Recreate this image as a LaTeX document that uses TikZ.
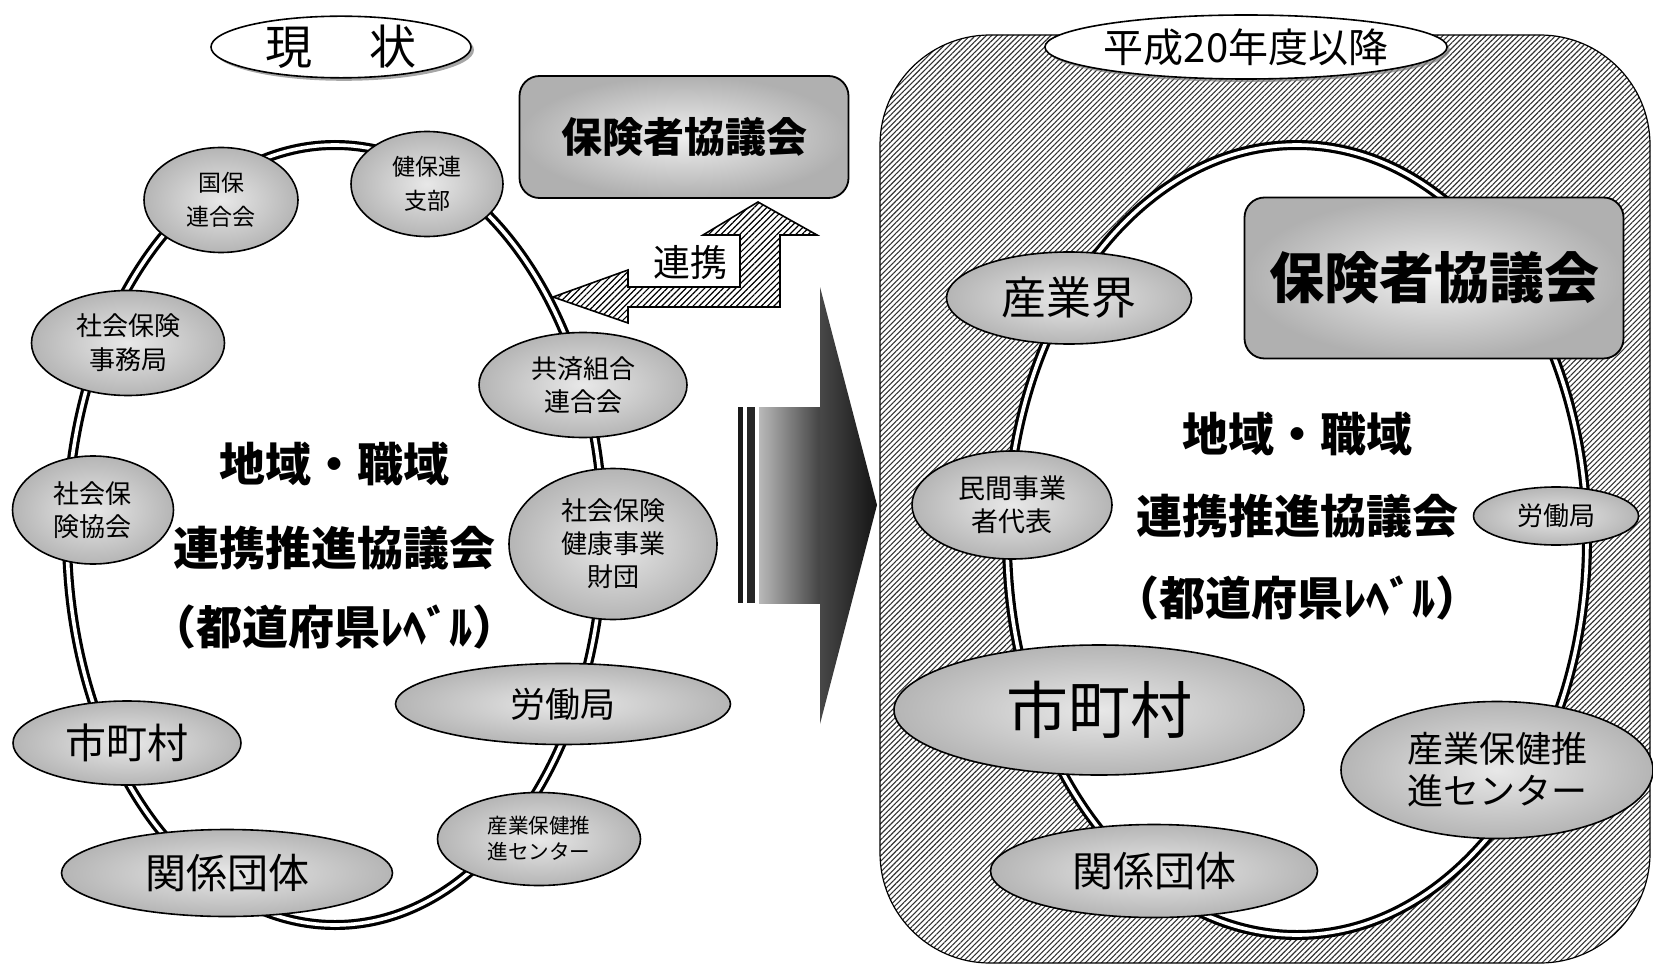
\documentclass[tikz,border=0pt]{standalone}
\usepackage{fontspec}
\setmainfont{Noto Sans CJK JP}
\usetikzlibrary{shapes.geometric,patterns.meta,shadows}
\begin{document}
\begin{tikzpicture}[x=0.5pt,y=-0.5pt,
  bub/.style={ellipse, draw=black, line width=0.8pt, inner sep=0pt, inner color=gray!18, outer color=gray!58, align=center},
  sz/.style 2 args={minimum width=#1*0.5pt, minimum height=#2*0.5pt},
  fs/.style 2 args={font=\fontsize{#1}{#2}\selectfont},
  fsb/.style 2 args={font=\fontsize{#1}{#2}\selectfont\bfseries},
  ring/.style={draw=black, double=white, line width=1.6pt, double distance=1.8pt},
  ctr/.style={font=\fontsize{23}{28}\selectfont\bfseries, inner sep=0pt},
  titleell/.style={ellipse, draw=black, fill=white, line width=0.8pt, inner sep=0pt,
    drop shadow={shadow xshift=1.5pt, shadow yshift=-1.5pt, opacity=0.7, fill=gray}},
  hbox/.style={rectangle, rounded corners=10pt, draw=black, line width=0.9pt, inner sep=0pt,
    inner color=gray!12, outer color=gray!62},
  hatch/.style={draw=black, line width=0.8pt, pattern={Lines[angle=45,distance=2.2pt,line width=0.6pt]}, pattern color=black},
]
\useasboundingbox (0,0) rectangle (1653,968);

% ---------------- right panel ----------------
\draw[line width=0.6pt, pattern={Lines[angle=45,distance=1.9pt,line width=0.55pt]}, pattern color=black!80, rounded corners=55pt]
  (880,35) rectangle (1650,963);
\draw[ring, fill=white] (1297,540) ellipse [x radius=145pt, y radius=197.5pt];

\node[titleell, sz={402}{64}, fs={20}{24}] (heisei) at (1246,47) {平成20年度以降};

\node[bub, sz={245}{92}, fs={22.5}{26}] (sangyokai) at (1069,298) {産業界};
\node[hbox, sz={379}{161}, fsb={27.5}{32}] (hoken2) at (1434,278) {保険者協議会};
\node[bub, sz={200}{108}, fs={13.5}{16.5}] (minkan) at (1012,505) {民間事業\\者代表};
\node[bub, sz={165}{58}, fs={13}{16}] (rodo2) at (1556,516) {労働局};
\node[bub, sz={410}{130}, fs={31}{36}] (shicho2) at (1099,710) {市町村};
\node[bub, sz={312}{137}, fs={18}{21}] (sangyo2) at (1497,770) {産業保健推\\進センター};
\node[bub, sz={327}{93}, fs={20.5}{24}] (kankei2) at (1154,871) {関係団体};

\node[ctr] (r1) at (1297,434) {地域・職域};
\node[ctr] (r2) at (1297,516) {連携推進協議会};
\node[ctr] (r3) at (1297,598) {（都道府県ﾚﾍﾞﾙ）};

% ---------------- left side ----------------
\draw[ring] (335,535) ellipse [x radius=134pt, y radius=195pt];

\node[titleell, sz={260}{57}, fs={23.5}{28}] (genjo) at (341,47) {現\hspace{1.2em}状};

\node[bub, sz={154}{105}, fs={11.5}{17}] (kokuho) at (221,200) {国保\\連合会};
\node[bub, sz={152}{105}, fs={11.5}{17}] (kenpo) at (427,184) {健保連\\支部};
\node[bub, sz={193}{105}, fs={13}{17}] (jimu) at (128,343) {社会保険\\事務局};
\node[bub, sz={208}{105}, fs={13}{16.5}] (kyosai) at (583,385) {共済組合\\連合会};
\node[bub, sz={161}{108}, fs={13}{16.5}] (kyokai) at (93,510) {社会保\\険協会};
\node[bub, sz={208}{151}, fs={13}{16.5}] (zaidan) at (613,544) {社会保険\\健康事業\\財団};
\node[bub, sz={335}{81}, fs={17.5}{20}] (rodo1) at (563,704) {労働局};
\node[bub, sz={228}{84}, fs={20.5}{24}] (shicho1) at (127,743) {市町村};
\node[bub, sz={203}{93}, fs={10.3}{13}] (sangyo1) at (539,839) {産業保健推\\進センター};
\node[bub, sz={331}{87}, fs={20.5}{24}] (kankei1) at (227,873) {関係団体};

\node[ctr] (l1) at (334,464) {地域・職域};
\node[ctr] (l2) at (334,548) {連携推進協議会};
\node[ctr] (l3) at (334,627) {（都道府県ﾚﾍﾞﾙ）};

% insurer council box (left/top)
\node[hbox, sz={329}{122}, fsb={20.5}{24}] (hoken1) at (684,137) {保険者協議会};

% hatched L-shaped arrow
\draw[hatch] (553,297) -- (628,270) -- (628,287) -- (740,287) -- (740,235) -- (703,235)
  -- (758,202) -- (817,235) -- (780,235) -- (780,307) -- (628,307) -- (628,323) -- cycle;
\node[fs={18.5}{22}, inner sep=0pt] (renkei) at (690,262) {連携};

% big dark arrow
\fill[black!90] (738,407) rectangle (743,603);
\fill[black!85] (747,407) rectangle (755,603);
\shade[left color=gray!55, right color=black!75] (759,407) rectangle (822,603);
\shade[left color=black!72, right color=black!92] (820,287) -- (877,505) -- (820,724) -- cycle;

\end{tikzpicture}
\end{document}
